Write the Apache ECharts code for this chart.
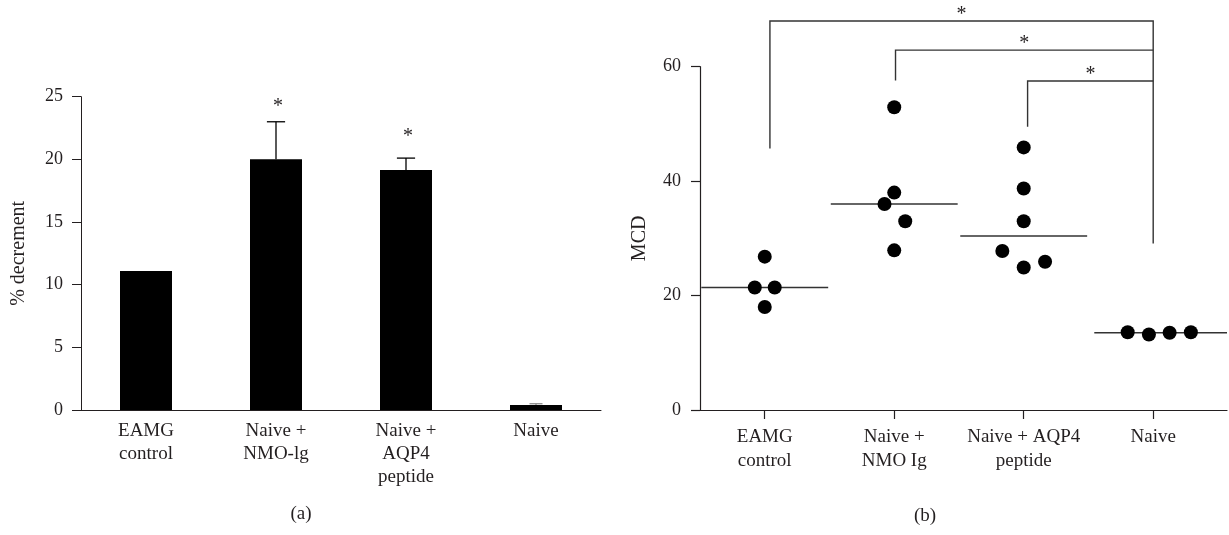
<!DOCTYPE html>
<html>
<head>
<meta charset="utf-8">
<script src="https://cdn.jsdelivr.net/npm/echarts@6/dist/echarts.min.js"></script>
<style>html,body{margin:0;padding:0;background:#fff}#c{width:1229px;height:535px}</style>
</head>
<body>
<div id="c"></div>
<script>
// ---------- Panel (a): % decrement ----------
const barCategories = ['EAMG\ncontrol', 'Naive +\nNMO-lg', 'Naive +\nAQP4\npeptide', 'Naive'];
const barValues = [11.1, 20.0, 19.15, 0.4];
const barErrors = [0, 3.0, 0.95, 0.1];
const barSigMarks = [null, 24.5, 22.1, null];
const barYTicks = [0, 5, 10, 15, 20, 25];

// ---------- Panel (b): MCD ----------
const mcdCategories = ['EAMG\ncontrol', 'Naive +\nNMO Ig', 'Naive + AQP4\npeptide', 'Naive'];
const eamgMCD = [26.8, 21.4, 21.4, 18.0];
const eamgJitter = [0, -0.077, 0.077, 0];
const nmoMCD = [52.9, 38.0, 36.0, 33.0, 27.9];
const nmoJitter = [0, 0, -0.075, 0.085, 0];
const aqp4MCD = [45.9, 38.7, 33.0, 27.8, 24.9, 25.9];
const aqp4Jitter = [0, 0, 0, -0.165, 0, 0.165];
const naiveMCD = [13.6, 13.2, 13.5, 13.6];
const naiveJitter = [-0.197, -0.033, 0.127, 0.291];
const mcdMedians = [21.4, 36.0, 30.4, 13.5];
const mcdYTicks = [0, 20, 40, 60];
// significance brackets: [left group, right group, top, left foot, right foot]
const sigBrackets = [
  [0.04, 3.0, 68.0, 45.7, 29.1],
  [1.01, 3.0, 62.9, 57.6, 62.9],
  [2.03, 3.0, 57.5, 49.5, 57.5]
];

const FONT = "'Liberation Serif', 'DejaVu Serif', serif";
const INK = '#231f20';
const X_MAX = 3.57;

function pts(vals, jit, g) { return vals.map((v, i) => [g + jit[i], v]); }
const mcdPoints = [].concat(
  pts(eamgMCD, eamgJitter, 0), pts(nmoMCD, nmoJitter, 1),
  pts(aqp4MCD, aqp4Jitter, 2), pts(naiveMCD, naiveJitter, 3));

const chart = echarts.init(document.getElementById('c'), null, {renderer: 'canvas'});

const option = {
  animation: false,
  backgroundColor: '#fff',
  textStyle: {fontFamily: FONT, color: INK},
  grid: [
    {left: 81, top: 96.7, width: 520, height: 313.3, outerBoundsMode: 'none', containLabel: false},
    {left: 700, top: 66.7, width: 527, height: 343.3, outerBoundsMode: 'none', containLabel: false}
  ],
  xAxis: [
    {
      gridIndex: 0, type: 'category', data: barCategories, boundaryGap: true,
      axisLine: {show: true, lineStyle: {color: INK, width: 1}},
      axisTick: {show: false},
      axisLabel: {color: INK, fontFamily: FONT, fontSize: 19, lineHeight: 23, margin: 10, interval: 0}
    },
    {
      gridIndex: 1, type: 'value', min: -0.5, max: X_MAX,
      splitLine: {show: false},
      axisLine: {show: true, onZero: false, lineStyle: {color: INK, width: 1.2}},
      axisTick: {show: true, customValues: [0, 1, 2, 3], length: 9, lineStyle: {color: INK, width: 1.2}},
      axisLabel: {show: true, customValues: [0, 1, 2, 3], color: INK, fontFamily: FONT, fontSize: 19, lineHeight: 24, margin: 15,
        formatter: v => mcdCategories[Math.round(v)]}
    }
  ],
  yAxis: [
    {
      gridIndex: 0, type: 'value', min: barYTicks[0], max: barYTicks[barYTicks.length - 1], interval: 5,
      name: '% decrement', nameLocation: 'middle', nameRotate: 90, nameGap: 52,
      nameTextStyle: {color: INK, fontFamily: FONT, fontSize: 20},
      splitLine: {show: false},
      axisLine: {show: true, onZero: false, lineStyle: {color: INK, width: 1}},
      axisTick: {show: true, length: 9, lineStyle: {color: INK, width: 1}},
      axisLabel: {color: INK, fontFamily: FONT, fontSize: 18, margin: 18}
    },
    {
      gridIndex: 1, type: 'value', min: mcdYTicks[0], max: mcdYTicks[mcdYTicks.length - 1], interval: 20,
      name: 'MCD', nameLocation: 'middle', nameRotate: 90, nameGap: 50,
      nameTextStyle: {color: INK, fontFamily: FONT, fontSize: 20},
      splitLine: {show: false},
      axisLine: {show: true, onZero: false, lineStyle: {color: INK, width: 1.2}},
      axisTick: {show: true, length: 9, lineStyle: {color: INK, width: 1.2}},
      axisLabel: {color: INK, fontFamily: FONT, fontSize: 18, margin: 19}
    }
  ],
  graphic: [
    {type: 'text', x: 301, y: 514, style: {text: '(a)', font: "19px 'Liberation Serif'", fill: INK, align: 'center', verticalAlign: 'middle'}},
    {type: 'text', x: 925, y: 516, style: {text: '(b)', font: "19px 'Liberation Serif'", fill: INK, align: 'center', verticalAlign: 'middle'}}
  ],
  series: [
    {
      type: 'bar', xAxisIndex: 0, yAxisIndex: 0, data: barValues, barWidth: '40%',
      itemStyle: {color: '#000'}
    },
    {
      type: 'custom', xAxisIndex: 0, yAxisIndex: 0,
      data: barValues.map((v, i) => [i, v, v + barErrors[i], barSigMarks[i] == null ? NaN : barSigMarks[i], barErrors[i]]),
      renderItem: function (params, api) {
        const i = api.value(0), v = api.value(1), top = api.value(2), sig = api.value(3), err = api.value(4);
        const children = [];
        if (err > 0) {
          const p0 = api.coord([i, v]), p1 = api.coord([i, top]);
          const band = api.size([1, 0])[0];
          const half = band * (i === 3 ? 0.05 : 0.07);
          const col = i === 3 ? '#888' : '#000';
          children.push(
            {type: 'line', shape: {x1: p0[0], y1: p0[1], x2: p1[0], y2: p1[1]}, style: {stroke: col, lineWidth: 1.3}},
            {type: 'line', shape: {x1: p1[0] - half, y1: p1[1], x2: p1[0] + half, y2: p1[1]}, style: {stroke: col, lineWidth: 1.3}}
          );
        }
        if (!isNaN(sig)) {
          const ps = api.coord([i, sig]);
          children.push({type: 'text', x: ps[0] + 2, y: ps[1] + 4, style: {text: '*', font: "20px 'Liberation Serif'", fill: INK, align: 'center', verticalAlign: 'middle'}});
        }
        return {type: 'group', children: children};
      }
    },
    {
      type: 'custom', xAxisIndex: 1, yAxisIndex: 1, clip: false,
      data: mcdMedians.map((m, i) => [i, m]),
      renderItem: function (params, api) {
        const i = api.value(0), m = api.value(1);
        const last = i === mcdMedians.length - 1;
        const a = api.coord([i - (last ? 0.455 : 0.49), m]);
        const b = api.coord([last ? X_MAX : i + 0.49, m]);
        return {type: 'line', shape: {x1: a[0], y1: a[1], x2: b[0], y2: b[1]}, style: {stroke: '#333', lineWidth: 1.4}};
      }
    },
    {
      type: 'scatter', xAxisIndex: 1, yAxisIndex: 1, clip: false,
      data: mcdPoints, symbol: 'circle', symbolSize: 14,
      itemStyle: {color: '#000', opacity: 1}
    },
    {
      type: 'custom', xAxisIndex: 1, yAxisIndex: 1, clip: false,
      data: sigBrackets,
      renderItem: function (params, api) {
        const x1 = api.value(0), x2 = api.value(1), top = api.value(2), lb = api.value(3), rb = api.value(4);
        const p = [api.coord([x1, lb]), api.coord([x1, top]), api.coord([x2, top]), api.coord([x2, rb])];
        const mid = api.coord([(x1 + x2) / 2, top]);
        return {type: 'group', children: [
          {type: 'polyline', shape: {points: p}, style: {stroke: '#333', lineWidth: 1.4, fill: null}},
          {type: 'text', x: mid[0], y: mid[1] - 6, style: {text: '*', font: "20px 'Liberation Serif'", fill: INK, align: 'center', verticalAlign: 'middle'}}
        ]};
      }
    }
  ]
};
chart.setOption(option);
</script>
</body>
</html>
